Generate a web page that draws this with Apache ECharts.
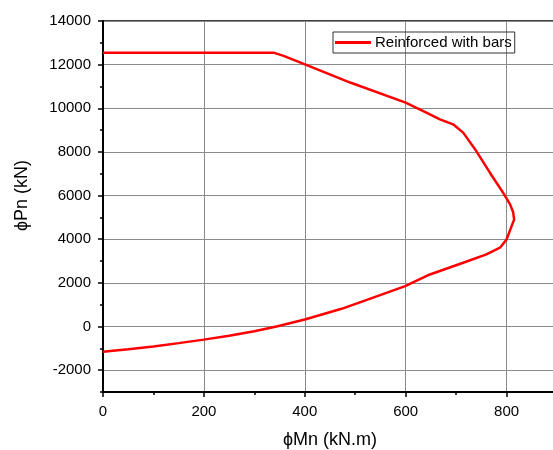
<!DOCTYPE html>
<html>
<head>
<meta charset="utf-8">
<script src="https://cdn.jsdelivr.net/npm/echarts@6/dist/echarts.min.js"></script>
<style>
html,body{margin:0;padding:0;background:#fff;}
#chart{width:553px;height:450px;}
</style>
</head>
<body>
<div id="chart"></div>
<script>
// phiMn (kN.m) and phiPn (kN)
const momentValues = [0, 50, 100, 150, 200, 250, 300, 344, 400, 473, 530, 599, 648, 714, 760, 787, 800, 810, 815, 813, 807, 793, 767, 740, 714, 694, 668, 641, 600, 490, 399, 358, 338, 0];
const axialValues = [-1160, -1040, -910, -760, -600, -420, -220, 0, 320, 812, 1280, 1849, 2385, 2922, 3303, 3610, 3991, 4600, 4900, 5250, 5596, 6133, 7049, 8041, 8884, 9266, 9495, 9800, 10260, 11180, 12020, 12400, 12550, 12550];
const yMajorTicks = [-2000, 0, 2000, 4000, 6000, 8000, 10000, 12000, 14000];
const seriesName = 'Reinforced with bars';
const xTitle = 'ϕMn (kN.m)';
const yTitle = 'ϕPn (kN)';

const points = momentValues.map((m, i) => [m, axialValues[i]]);
const font = '"Liberation Sans", Arial, sans-serif';
const chart = echarts.init(document.getElementById('chart'), null, {renderer: 'canvas'});
chart.setOption({
  animation: false,
  backgroundColor: '#fff',
  grid: {left: 103, top: 21, bottom: 58, right: -4, show: true, borderColor: '#000', borderWidth: 1.5,
    outerBoundsMode: 'none', containLabel: false},
  legend: {
    left: 333, top: 32,
    data: [{name: seriesName, icon: 'rect'}],
    borderColor: '#333', borderWidth: 1, borderRadius: 0,
    padding: [3, 3, 3, 2],
    itemWidth: 36, itemHeight: 3, itemGap: 4,
    textStyle: {fontFamily: font, fontSize: 15, color: '#000', padding: [0, 0, 0, -1]}
  },
  xAxis: {
    type: 'value', min: 0, max: 900, interval: 200,
    name: xTitle, nameLocation: 'middle', nameGap: 39,
    nameTextStyle: {fontFamily: font, fontSize: 18, color: '#000'},
    axisLine: {show: true, onZero: false, lineStyle: {color: '#000', width: 2}},
    axisTick: {show: true, inside: false, length: 5, lineStyle: {color: '#000', width: 1.5}},
    minorTick: {show: true, splitNumber: 2, length: 3, lineStyle: {color: '#000', width: 1.5}},
    axisLabel: {fontFamily: font, fontSize: 15, color: '#000', margin: 12, showMaxLabel: false},
    splitLine: {show: true, lineStyle: {color: '#8a8a8a', width: 1}}
  },
  yAxis: [{
    type: 'value', min: -3000, max: 14000,
    name: yTitle, nameLocation: 'middle', nameGap: 72, nameRotate: 90,
    nameTextStyle: {fontFamily: font, fontSize: 18, color: '#000', padding: [0, 0, 0, 22]},
    axisLine: {show: true, onZero: false, lineStyle: {color: '#000', width: 2}},
    axisTick: {show: true, inside: false, length: 5, customValues: yMajorTicks, lineStyle: {color: '#000', width: 1.5}},
    axisLabel: {fontFamily: font, fontSize: 15, color: '#000', margin: 12, customValues: yMajorTicks,
      formatter: v => String(v)},
    splitLine: {show: true, lineStyle: {color: '#8a8a8a', width: 1}}
  }, {
    // minor ticks at odd thousands
    type: 'value', min: -3000, max: 14000, interval: 2000, position: 'left',
    axisLine: {show: false, onZero: false},
    axisTick: {show: true, inside: false, length: 3, lineStyle: {color: '#000', width: 1.5}},
    axisLabel: {show: false},
    splitLine: {show: false}
  }],
  series: [{
    name: seriesName,
    type: 'line',
    yAxisIndex: 0,
    data: points,
    symbol: 'none',
    smooth: false,
    lineStyle: {color: '#ff0000', width: 2.5},
    itemStyle: {color: '#ff0000'}
  }]
});
</script>
</body>
</html>
